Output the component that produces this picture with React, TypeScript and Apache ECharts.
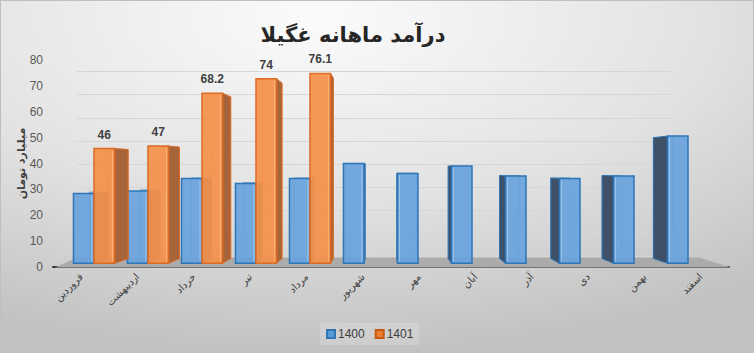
import React, { useEffect, useRef } from "react";
import * as echarts from "echarts";

const TITLE = "درآمد ماهانه غگیلا";
const Y_NAME = "میلیارد تومان";
const MONTHS = ["فروردین", "اردیبهشت", "خرداد", "تیر", "مرداد", "شهریور", "مهر", "آبان", "آذر", "دی", "بهمن", "اسفند"];
const SERIES_NAMES = ["1400", "1401"];
const VALUES_1400 = [28, 29, 34, 32, 34, 40, 36, 39, 35, 34, 35, 51];
const VALUES_1401 = [46, 47, 68.2, 74, 76.1];
const Y_TICKS = { min: 0, max: 80, interval: 10 };

// styling constants (perspective look)
const VPX = 385;
const VPY = 167;
const DEPTH = 0.95;
const BAR_RATIO = 0.38;
const FRONT = ["rgba(104,163,221,0.92)", "rgba(244,145,76,0.93)"];
const STROKE = ["#2e75b6", "#dc6a22"];
const SIDE = ["#3e5169", "#a7643b"];
const INNER = ["rgba(180,210,240,0.7)", "rgba(250,190,140,0.7)"];

export default function App() {
  const ref = useRef<HTMLDivElement>(null);
  useEffect(() => {
    document.body.style.margin = "0";
    const chart = echarts.init(ref.current!, null, { renderer: "svg" });

    const makeRender = (sIdx: number) => (params: any, api: any) => {
      const ci = api.value(0);
      const v = api.value(1);
      const base = api.coord([ci, 0]);
      const top = api.coord([ci, v]);
      const band = api.size([1, 0])[0];
      const w = band * BAR_RATIO;
      const x0 = base[0] - w + sIdx * w;
      const x1 = x0 + w;
      const y0 = top[1];
      const y1 = base[1];
      const back = (x: number, y: number) => [VPX + (x - VPX) * DEPTH, VPY + (y - VPY) * DEPTH];
      const cx = (x0 + x1) / 2;
      const children: any[] = [];
      const bTL = back(x0, y0), bTR = back(x1, y0), bBL = back(x0, y1), bBR = back(x1, y1);
      children.push({
        type: "polyline",
        shape: { points: [bTL, bBL, bBR, bTR, bTL] },
        style: { stroke: STROKE[sIdx], lineWidth: 1, fill: null, opacity: 0.6 },
        z2: 1,
      });
      if (cx < VPX) {
        children.push({
          type: "polygon",
          shape: { points: [[x1, y0], bTR, bBR, [x1, y1]] },
          style: { fill: SIDE[sIdx], stroke: STROKE[sIdx], lineWidth: 1 },
          z2: 2,
        });
      } else {
        children.push({
          type: "polygon",
          shape: { points: [[x0, y0], bTL, bBL, [x0, y1]] },
          style: { fill: SIDE[sIdx], stroke: STROKE[sIdx], lineWidth: 1 },
          z2: 2,
        });
      }
      children.push({
        type: "rect",
        shape: { x: x0, y: y0, width: w, height: y1 - y0 },
        style: { fill: FRONT[sIdx], stroke: STROKE[sIdx], lineWidth: 1.5 },
        z2: 3,
      });
      const ixRaw = cx < VPX ? bTR[0] : bTL[0];
      const ix = Math.min(Math.max(ixRaw, x0 + 2), x1 - 2);
      children.push({
        type: "line",
        shape: { x1: ix, y1: y0 + 2, x2: ix, y2: y1 - 2 },
        style: { stroke: INNER[sIdx], lineWidth: 1 },
        z2: 4,
      });
      if (sIdx === 1) {
        children.push({
          type: "text",
          style: {
            text: String(v),
            x: cx,
            y: y0 - 8,
            align: "center",
            verticalAlign: "bottom",
            fill: "#404040",
            font: "bold 12px 'Liberation Sans', Arial, sans-serif",
          },
          z2: 5,
        });
      }
      return { type: "group", children };
    };

    const option: any = {
      animation: false,
      backgroundColor: {
        type: "radial",
        x: 0.42,
        y: 0.05,
        r: 0.95,
        colorStops: [
          { offset: 0, color: "#fbfbfb" },
          { offset: 0.55, color: "#e2e2e2" },
          { offset: 1, color: "#c2c2c2" },
        ],
      },
      legend: {
        data: SERIES_NAMES,
        left: 319,
        top: 322,
        itemWidth: 8,
        itemHeight: 8,
        itemGap: 10,
        padding: [5, 6],
        backgroundColor: "rgba(255,255,255,0.18)",
        textStyle: { color: "#404040", fontSize: 12, fontFamily: "'Liberation Sans', Arial, sans-serif", padding: [0, 0, 0, -2] },
        icon: "rect",
      },
      grid: [
        { left: 66, right: 38, top: 62.7, bottom: 88.7 },
        { left: 52, right: 24, top: 59, bottom: 85 },
        { left: 76, right: 82, top: 70.7, bottom: 96 },
      ],
      xAxis: [
        { gridIndex: 0, type: "category", data: MONTHS, show: false },
        {
          gridIndex: 1,
          type: "category",
          data: MONTHS,
          axisTick: { show: false },
          axisLine: { lineStyle: { color: "#3a3a3a", width: 2 } },
          axisLabel: {
            interval: 0,
            rotate: 45,
            margin: 8,
            fontSize: 10,
            color: "#404040",
            fontFamily: "'DejaVu Sans', sans-serif",
          },
        },
        { gridIndex: 2, type: "category", data: MONTHS, show: false },
      ],
      yAxis: [
        { gridIndex: 0, type: "value", ...Y_TICKS, show: false },
        {
          gridIndex: 1,
          type: "value",
          ...Y_TICKS,
          splitLine: { show: false },
          axisLine: { show: false },
          axisTick: { show: false },
          axisLabel: { color: "#595959", fontSize: 12, margin: 10, fontFamily: "'Liberation Sans', Arial, sans-serif" },
          name: Y_NAME,
          nameLocation: "middle",
          nameRotate: 90,
          nameGap: 26,
          nameMoveOverlap: false,
          nameTextStyle: { color: "#404040", fontSize: 11, fontWeight: "bold", fontFamily: "'DejaVu Sans', sans-serif" },
        },
        {
          gridIndex: 2,
          type: "value",
          ...Y_TICKS,
          axisLabel: { show: false },
          axisLine: { show: false },
          axisTick: { show: false },
          splitLine: { lineStyle: { color: "#d6d6d6", width: 1 } },
        },
      ],
      graphic: [
        {
          type: "polygon",
          z: 1,
          shape: { points: [[54, 266.5], [76, 256.5], [698, 256.5], [730, 266.5]] },
          style: { fill: "#ababab" },
        },
        {
          type: "text",
          z: 10,
          x: 352,
          y: 34,
          style: {
            text: TITLE,
            align: "center",
            verticalAlign: "middle",
            fill: "#262626",
            font: "bold 21px 'DejaVu Sans', sans-serif",
          },
        },
      ],
      series: [
        {
          name: SERIES_NAMES[0],
          type: "custom",
          xAxisIndex: 0,
          yAxisIndex: 0,
          z: 3,
          itemStyle: { color: "#5b9bd5", borderColor: "#2e75b6", borderWidth: 1 },
          encode: { x: 0, y: 1 },
          data: VALUES_1400.map((v, i) => [i, v]),
          renderItem: makeRender(0),
        },
        {
          name: SERIES_NAMES[1],
          type: "custom",
          xAxisIndex: 0,
          yAxisIndex: 0,
          z: 4,
          itemStyle: { color: "#ed7d31", borderColor: "#c55a11", borderWidth: 1 },
          encode: { x: 0, y: 1 },
          data: VALUES_1401.map((v, i) => [i, v]),
          renderItem: makeRender(1),
        },
      ],
    };
    chart.setOption(option);
    return () => chart.dispose();
  }, []);
  return <div ref={ref} style={{ width: 754, height: 353, boxSizing: "border-box", border: "1px solid #bfbfbf" }} />;
}
